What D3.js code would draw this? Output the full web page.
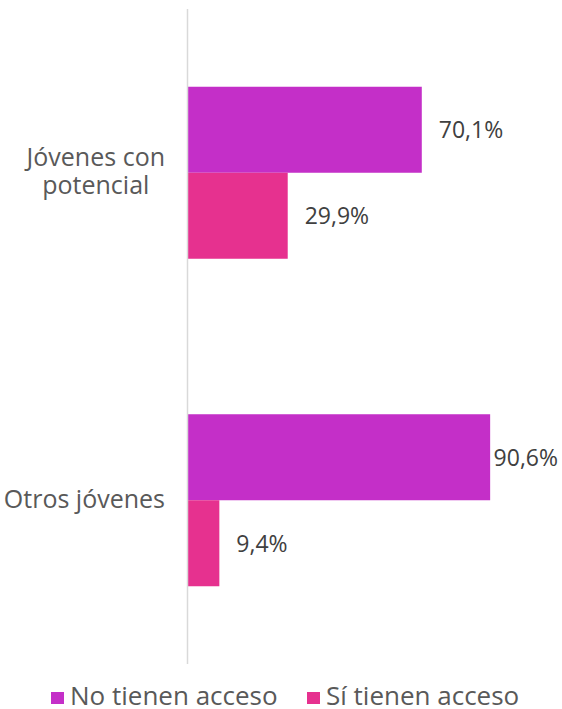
<!DOCTYPE html>
<html>
<head>
<meta charset="utf-8">
<script src="https://cdn.jsdelivr.net/npm/d3@7"></script>
<style>
html,body{margin:0;padding:0;background:#fff;}
svg{display:block;font-family:"Century Gothic","Open Sans","Noto Sans",sans-serif;}
</style>
</head>
<body>
<svg id="chart" width="562" height="709"></svg>
<script>
const categories = [["Jóvenes con", "potencial"], ["Otros jóvenes"]];
const categoryKeys = ["Jóvenes con potencial", "Otros jóvenes"];
const seriesNames = ["No tienen acceso", "Sí tienen acceso"];
const noAcceso = [70.1, 90.6];
const siAcceso = [29.9, 9.4];
const valueLabels = [["70,1%", "29,9%"], ["90,6%", "9,4%"]];
const colors = ["#C42FC8", "#E6318F"];

const svg = d3.select("#chart");
const x = d3.scaleLinear().domain([0, 100]).range([188, 521.5]);
const y0 = d3.scaleBand().domain(categoryKeys).range([9, 664]);
const y1 = d3.scaleBand().domain(seriesNames).range([0, y0.bandwidth()]).paddingInner(0).paddingOuter(0.904);

const data = categoryKeys.map((c, i) => ({
  cat: c,
  vals: [
    {s: seriesNames[0], v: noAcceso[i], label: valueLabels[i][0], color: colors[0]},
    {s: seriesNames[1], v: siAcceso[i], label: valueLabels[i][1], color: colors[1]}
  ]
}));

const g = svg.selectAll("g.cat").data(data).join("g").attr("class", "cat")
  .attr("transform", d => `translate(0,${y0(d.cat)})`);

g.selectAll("rect").data(d => d.vals).join("rect")
  .attr("x", x(0))
  .attr("y", d => y1(d.s))
  .attr("width", d => x(d.v) - x(0))
  .attr("height", y1.bandwidth())
  .attr("fill", d => d.color);

g.selectAll("text.val").data(d => d.vals).join("text").attr("class", "val")
  .attr("y", d => y1(d.s) + y1.bandwidth() / 2 + 8.5)
  .attr("font-size", 23)
  .attr("fill", "#404040")
  .text(d => d.label)
  .each(function(d) {
    const w = this.getComputedTextLength();
    const xs = Math.min(x(d.v) + 17, 558 - w);
    d3.select(this).attr("x", xs);
  });

// axis line
svg.append("line").attr("x1", 187.5).attr("x2", 187.5).attr("y1", 9).attr("y2", 664)
  .attr("stroke", "#D9D9D9").attr("stroke-width", 1.5);

// category labels
categories.forEach((lines, i) => {
  const cy = y0(categoryKeys[i]) + y0.bandwidth() / 2;
  const t = svg.append("text").attr("font-size", 25).attr("fill", "#595959").attr("text-anchor", "middle");
  const lh = 28;
  lines.forEach((ln, j) => {
    t.append("tspan").attr("y", cy + (j - (lines.length - 1) / 2) * lh + 7.5).text(ln);
  });
  let maxW = 0;
  t.selectAll("tspan").each(function(){ maxW = Math.max(maxW, this.getComputedTextLength()); });
  t.selectAll("tspan").attr("x", 165 - maxW / 2);
});

// legend
const legendX = [51, 307];
seriesNames.forEach((s, i) => {
  svg.append("rect").attr("x", legendX[i]).attr("y", 692).attr("width", 13).attr("height", 12).attr("fill", colors[i]);
  svg.append("text").attr("x", legendX[i] + 19).attr("y", 705)
    .attr("font-size", 26).attr("fill", "#595959").text(s);
});
</script>
</body>
</html>
